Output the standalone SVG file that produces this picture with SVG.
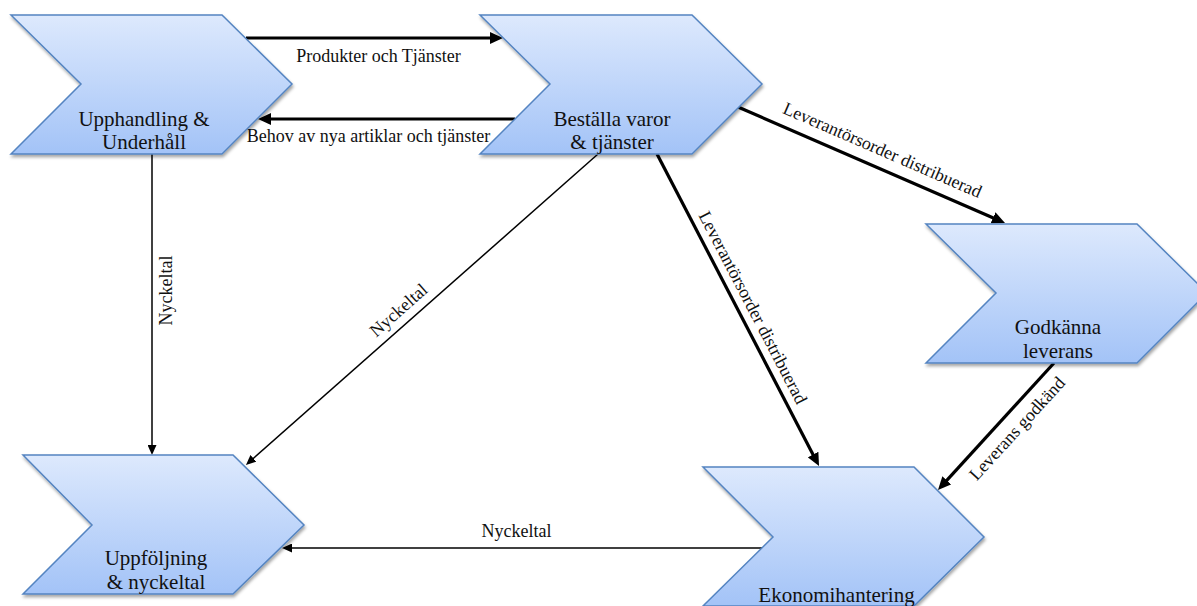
<svg xmlns="http://www.w3.org/2000/svg" width="1197" height="606" viewBox="0 0 1197 606">
  <defs>
    <linearGradient id="chevFill" x1="0" y1="0" x2="0" y2="1">
      <stop offset="0" stop-color="#dde9fd"/>
      <stop offset="1" stop-color="#a3c3f7"/>
    </linearGradient>
    <filter id="shadow" x="-10%" y="-10%" width="120%" height="130%">
      <feDropShadow dx="1" dy="2.5" stdDeviation="1.5" flood-color="#000" flood-opacity="0.35"/>
    </filter>
    <marker id="arrowThick" markerUnits="userSpaceOnUse" viewBox="0 0 13 12" markerWidth="13" markerHeight="12" refX="1" refY="6" orient="auto">
      <path d="M0,0 L13,6 L0,12 z" fill="#000"/>
    </marker>
    <marker id="arrowThin" markerUnits="userSpaceOnUse" viewBox="0 0 10 9" markerWidth="10" markerHeight="9" refX="1" refY="4.5" orient="auto">
      <path d="M0,0 L10,4.5 L0,9 z" fill="#000"/>
    </marker>
    <style>
      .chev { fill: url(#chevFill); stroke: #5484c1; stroke-width: 1.5; filter: url(#shadow); }
      .nlabel { font-family: "Liberation Serif", "Times New Roman", serif; font-size: 21px; fill: #111; text-anchor: middle; }
      .elabel { font-family: "Liberation Serif", "Times New Roman", serif; font-size: 18px; fill: #111; text-anchor: middle; }
      .thick { stroke: #000; stroke-width: 3.2; fill: none; marker-end: url(#arrowThick); }
      .thin { stroke: #000; stroke-width: 1.5; fill: none; marker-end: url(#arrowThin); }
    </style>
  </defs>

  <g id="connectors">
    <line class="thick" x1="246" y1="38" x2="491" y2="38"/>
    <line class="thick" x1="515" y1="119" x2="270" y2="119"/>
    <line class="thin" x1="152" y1="154" x2="152" y2="446"/>
    <line class="thin" x1="598" y1="154" x2="252.7" y2="459"/>
    <line class="thick" x1="738" y1="107" x2="994" y2="218.2"/>
    <line class="thick" x1="657" y1="154" x2="813.5" y2="455.4"/>
    <line class="thick" x1="1054" y1="363" x2="946.1" y2="481.1"/>
    <line class="thin" x1="762" y1="548" x2="291" y2="548"/>

    <text class="elabel" x="378.5" y="61.5">Produkter och Tjänster</text>
    <text class="elabel" x="368.5" y="141.5">Behov av nya artiklar och tjänster</text>
    <text class="elabel" x="172" y="290.5" transform="rotate(-90 172 290.5)">Nyckeltal</text>
    <text class="elabel" x="402.6" y="314.6" transform="rotate(-41.46 402.6 314.6)">Nyckeltal</text>
    <text class="elabel" x="880.1" y="155.5" transform="rotate(23.48 880.1 155.5)">Leverantörsorder distribuerad</text>
    <text class="elabel" x="747.7" y="310.3" transform="rotate(62.56 747.7 310.3)">Leverantörsorder distribuerad</text>
    <text class="elabel" x="1021.5" y="432.5" transform="rotate(-47.6 1021.5 432.5)">Leverans godkänd</text>
    <text class="elabel" x="516.5" y="536.7">Nyckeltal</text>
  </g>

  <g id="upphandling">
    <polygon class="chev" points="11,15 222,15 292,84 222,154 11,154 81,84"/>
    <text class="nlabel" x="144" y="126">Upphandling &amp;</text>
    <text class="nlabel" x="144" y="149">Underhåll</text>
  </g>

  <g id="bestalla">
    <polygon class="chev" points="480,15 692,15 762,84 692,154 480,154 550,84"/>
    <text class="nlabel" x="612" y="126">Beställa varor</text>
    <text class="nlabel" x="612" y="149">&amp; tjänster</text>
  </g>

  <g id="godkanna">
    <polygon class="chev" points="926,224 1137,224 1207,293 1137,363 926,363 996,293"/>
    <text class="nlabel" x="1058" y="334">Godkänna</text>
    <text class="nlabel" x="1058" y="357.5">leverans</text>
  </g>

  <g id="uppfoljning">
    <polygon class="chev" points="23,455 233,455 304,525 233,594 23,594 92,525"/>
    <text class="nlabel" x="156" y="565">Uppföljning</text>
    <text class="nlabel" x="156" y="589">&amp; nyckeltal</text>
  </g>

  <g id="ekonomi">
    <polygon class="chev" points="703,467 914,467 984,537 914,606 703,606 773,537"/>
    <text class="nlabel" x="836.5" y="601.7">Ekonomihantering</text>
  </g>
</svg>
